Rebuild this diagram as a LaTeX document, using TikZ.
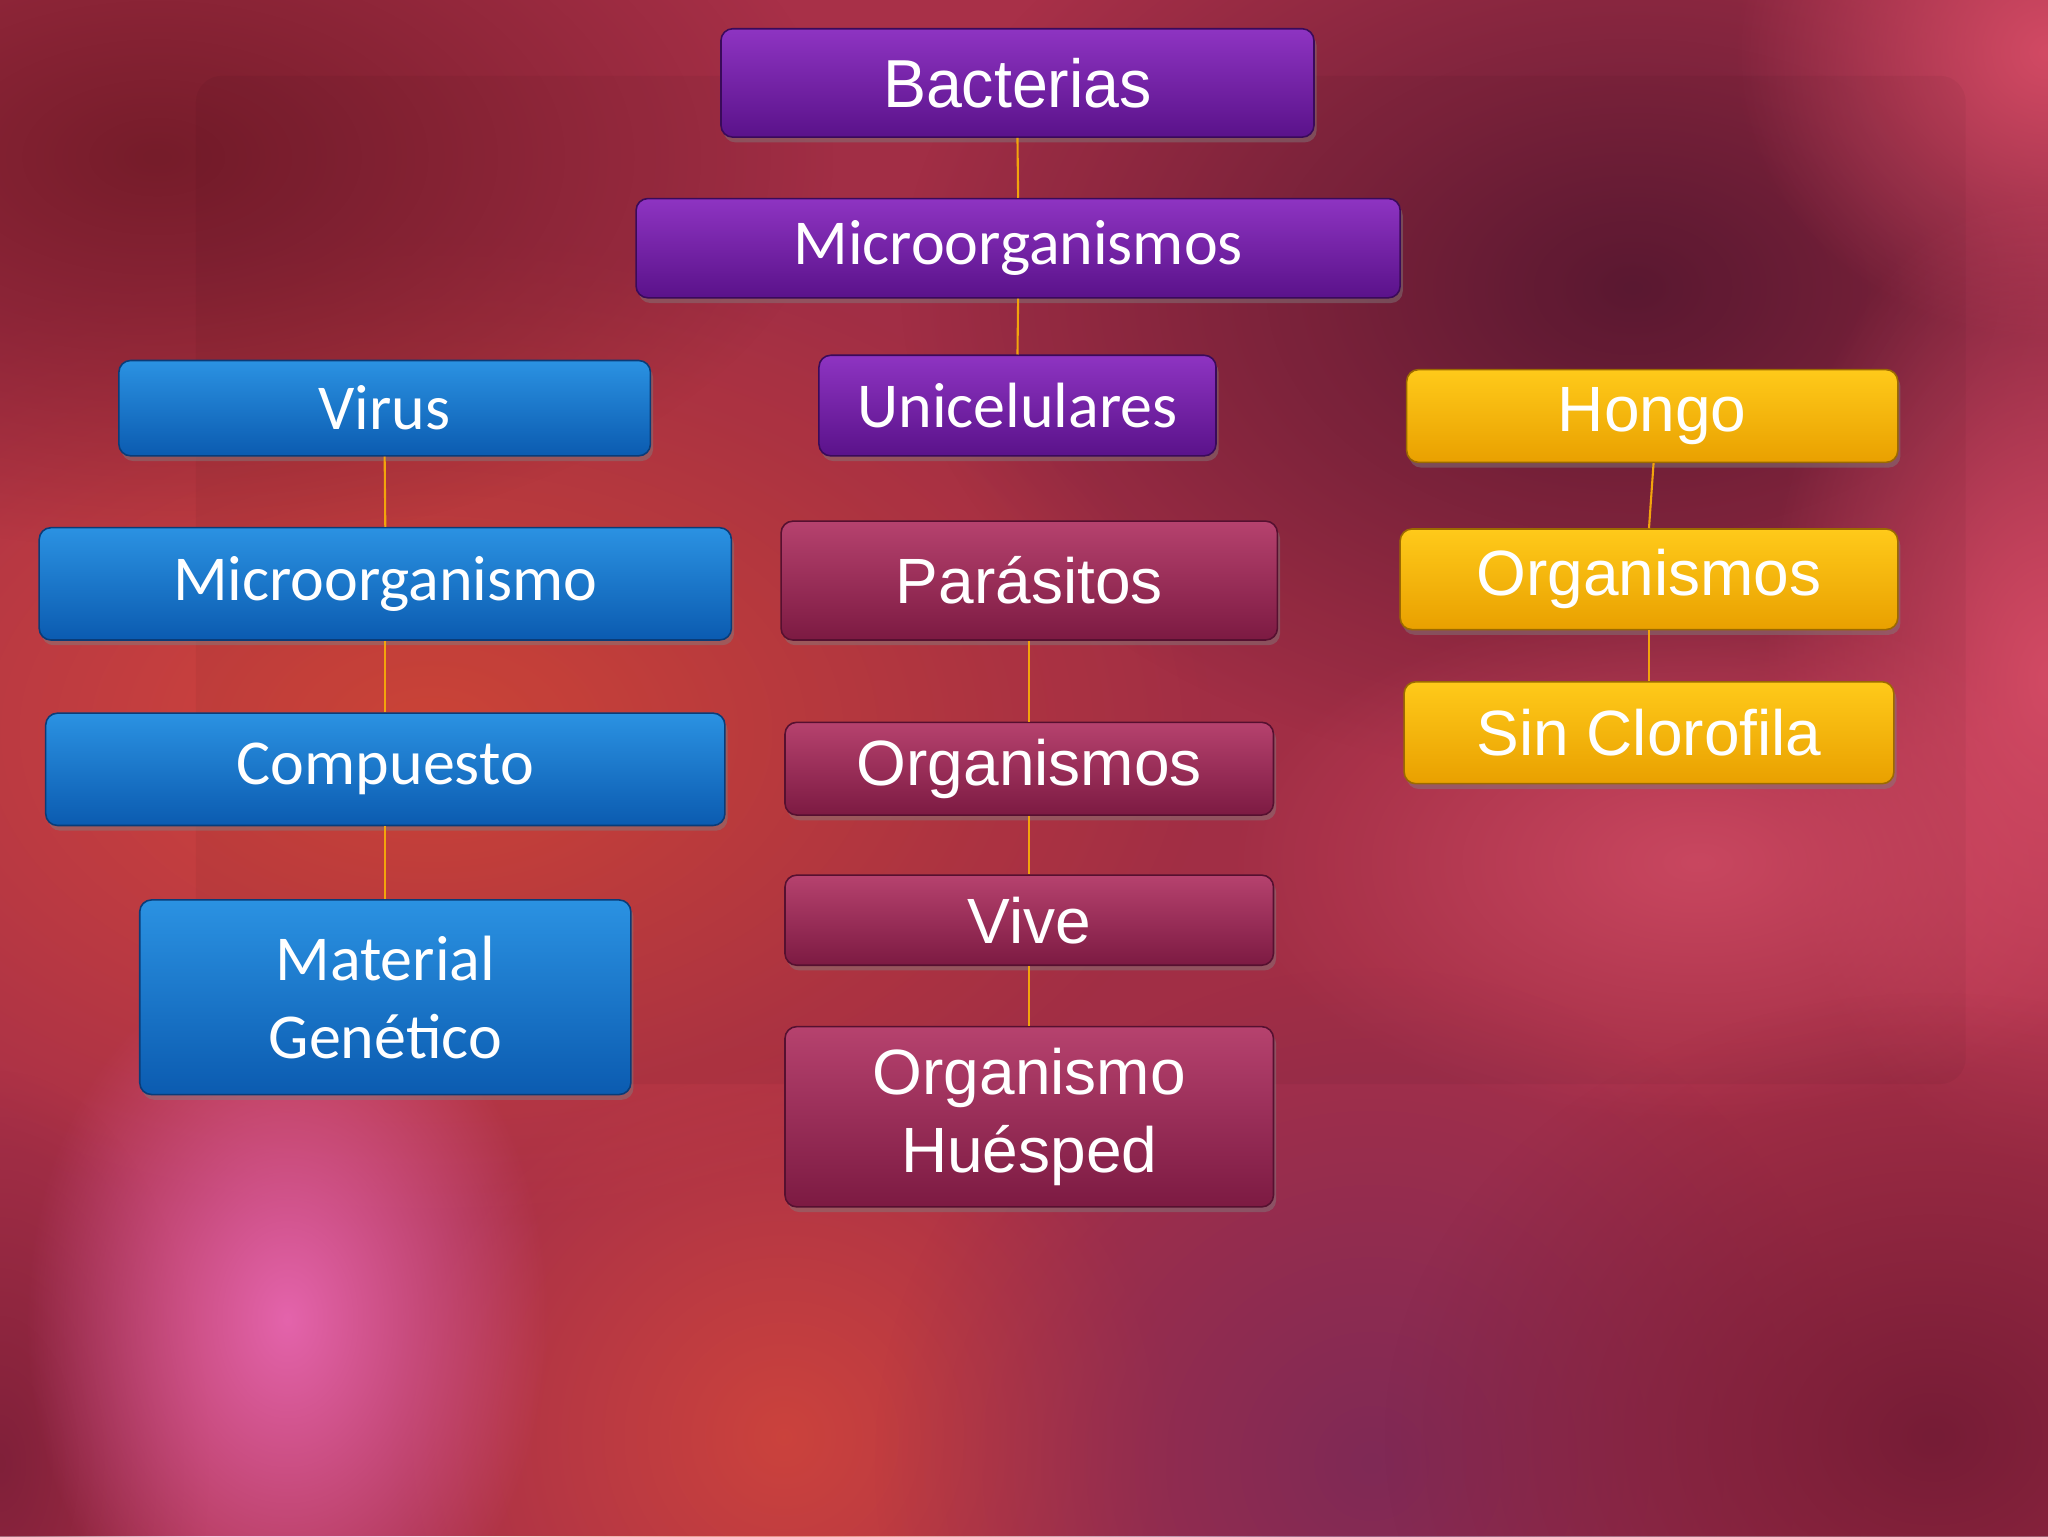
\documentclass[tikz,border=0pt]{standalone}
\usepackage{fontspec}
\setmainfont{Liberation Sans}
\newfontfamily\carlito{Carlito}
\usetikzlibrary{shadows,fadings}

\definecolor{bgbase}{HTML}{A83048}
\definecolor{bgorange}{HTML}{D4473A}
\definecolor{bgdark}{HTML}{5E1A34}
\definecolor{bgdarkred}{HTML}{761C2A}
\definecolor{bgpink}{HTML}{E464AC}
\definecolor{bgrose}{HTML}{D24A64}
\definecolor{bgpurple}{HTML}{782858}
\definecolor{bgmaroon}{HTML}{761C36}

\definecolor{pTop}{HTML}{8E34C2}
\definecolor{pBot}{HTML}{5A128A}
\definecolor{pLine}{HTML}{3A0A5A}
\definecolor{bTop}{HTML}{2B92E2}
\definecolor{bBot}{HTML}{0B5BB0}
\definecolor{bLine}{HTML}{0A3C78}
\definecolor{mTop}{HTML}{B6426E}
\definecolor{mBot}{HTML}{7C1A42}
\definecolor{mLine}{HTML}{561030}
\definecolor{yTop}{HTML}{FFCA1A}
\definecolor{yBot}{HTML}{E9A000}
\definecolor{yLine}{HTML}{9C6A00}
\definecolor{link}{HTML}{F2A40C}

\tikzfading[name=glow, inner color=transparent!0, outer color=transparent!100]

\tikzset{
  box/.style={rounded corners=9pt, line width=1.2pt, inner sep=0pt, text=white,
    align=center, drop shadow={shadow xshift=2pt, shadow yshift=-4pt, opacity=0.45}},
  purp/.style={box, top color=pTop, bottom color=pBot, draw=pLine,
    font=\carlito\fontsize{49}{60}\selectfont},
  blu/.style={box, top color=bTop, bottom color=bBot, draw=bLine,
    font=\carlito\fontsize{49}{60}\selectfont},
  maro/.style={box, top color=mTop, bottom color=mBot, draw=mLine,
    font=\fontsize{49}{60}\selectfont},
  yell/.style={box, top color=yTop, bottom color=yBot, draw=yLine,
    font=\fontsize{49}{60}\selectfont},
  conn/.style={draw=link, line width=1.6pt}
}

\begin{document}
\begin{tikzpicture}[x=1pt,y=-1pt]
\useasboundingbox (0,0) rectangle (1568,1176);
% background
\fill[bgbase] (0,0) rectangle (1568,1176);
\fill[bgorange, path fading=glow] (330,560) ellipse (600 and 380);
\fill[bgdarkred, path fading=glow] (120,120) ellipse (520 and 300);
\fill[bgdark, path fading=glow] (1250,220) ellipse (560 and 380);
\fill[bgrose, path fading=glow] (1568,40) ellipse (240 and 220);
\fill[bgrose, path fading=glow] (1568,520) ellipse (220 and 380);
\fill[bgrose, path fading=glow] (1300,660) ellipse (360 and 200);
\fill[bgorange, path fading=glow, fill opacity=0.8] (600,1100) ellipse (300 and 300);
\fill[bgpurple, path fading=glow, fill opacity=0.85] (1050,1120) ellipse (380 and 380);
\fill[bgmaroon, path fading=glow] (1480,1100) ellipse (420 and 340);
\fill[bgmaroon, path fading=glow, fill opacity=0.8] (0,1120) ellipse (160 and 300);
\fill[bgpink, path fading=glow] (220,1010) ellipse (200 and 280);
\fill[black, fill opacity=0.04, rounded corners=20pt] (150,58) rectangle (1505,830);

% purple column
\node[purp, minimum width=454pt, minimum height=83pt, font=\fontsize{52}{60}\selectfont] (bact) at (779,63.5) {\scalebox{0.95}[1]{Bacterias}};
\node[purp, minimum width=585pt, minimum height=76pt] (micro) at (779.5,190) {Microorganismos};
\node[purp, minimum width=304pt, minimum height=77pt] (uni) at (779,310.5) {Unicelulares};

% blue column
\node[blu, minimum width=407pt, minimum height=73pt] (virus) at (294.5,312.5) {Virus};
\node[blu, minimum width=530pt, minimum height=86pt] (microb) at (295,447) {Microorganismo};
\node[blu, minimum width=520pt, minimum height=86pt] (comp) at (295,589) {Compuesto};
\node[blu, minimum width=376pt, minimum height=149pt] (mat) at (295,763.5) {Material\\Genético};

% maroon column
\node[maro, minimum width=380pt, minimum height=91pt] (para) at (788,444.5) {Parásitos};
\node[maro, minimum width=374pt, minimum height=71pt] (orgm) at (788,588.5) {Organismos};
\node[maro, minimum width=374pt, minimum height=69pt] (vive) at (788,704.5) {Vive};
\node[maro, minimum width=374pt, minimum height=138pt] (hues) at (788,855) {Organismo\\Huésped};

% yellow column
\node[yell, minimum width=376pt, minimum height=71pt] (hongo) at (1265,318.5) {Hongo};
\node[yell, minimum width=381pt, minimum height=77pt] (orgy) at (1262.5,443.5) {Organismos};
\node[yell, minimum width=375pt, minimum height=78pt] (sinc) at (1262.5,561) {Sin Clorofila};

% connectors
\draw[conn] (bact.south) -- (micro.north);
\draw[conn] (micro.south) -- (uni.north);
\draw[conn] (virus.south) -- (microb.north);
\draw[conn] (microb.south) -- (comp.north);
\draw[conn] (comp.south) -- (mat.north);
\draw[conn] (para.south) -- (orgm.north);
\draw[conn] (orgm.south) -- (vive.north);
\draw[conn] (vive.south) -- (hues.north);
\draw[conn] ([xshift=1pt]hongo.south) -- (orgy.north);
\draw[conn] (orgy.south) -- (sinc.north);
\end{tikzpicture}
\end{document}
